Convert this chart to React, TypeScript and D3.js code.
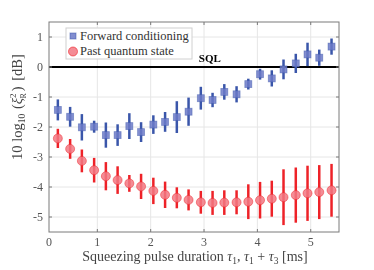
import React, { useEffect, useRef } from "react";
import * as d3 from "d3";

// pulse durations [ms]
const durations = [0.26, 0.49, 0.71, 0.94, 1.16, 1.38, 1.6, 1.82, 2.05, 2.27, 2.49, 2.71, 2.94, 3.16, 3.38, 3.61, 3.83, 4.05, 4.27, 4.49, 4.72, 4.94, 5.16, 5.39];

const forwardValues = [-1.43, -1.66, -2.01, -1.99, -2.27, -2.27, -1.97, -2.17, -1.92, -1.83, -1.67, -1.49, -1.04, -1.1, -0.83, -0.91, -0.57, -0.24, -0.38, -0.08, 0.12, 0.42, 0.31, 0.68];
const forwardErrors = [0.35, 0.33, 0.44, 0.2, 0.42, 0.36, 0.43, 0.33, 0.31, 0.33, 0.53, 0.47, 0.38, 0.24, 0.26, 0.27, 0.18, 0.18, 0.27, 0.33, 0.32, 0.39, 0.27, 0.27];

const pastValues = [-2.38, -2.73, -3.13, -3.44, -3.64, -3.77, -3.88, -3.98, -4.13, -4.26, -4.36, -4.43, -4.51, -4.53, -4.52, -4.51, -4.49, -4.44, -4.39, -4.34, -4.27, -4.21, -4.17, -4.11];
const pastErrors = [0.32, 0.33, 0.38, 0.41, 0.47, 0.46, 0.28, 0.42, 0.44, 0.44, 0.35, 0.35, 0.38, 0.4, 0.41, 0.4, 0.58, 0.61, 0.6, 0.93, 0.92, 0.92, 0.9, 0.88];

const xTicks = [1, 2, 3, 4, 5];
const yTicks = [1, 0, -1, -2, -3, -4, -5];
const legendLabels = ["Forward conditioning", "Past quantum state"];

const FONT = "'Liberation Serif', 'DejaVu Serif', serif";

export default function App() {
    const ref = useRef<SVGSVGElement>(null);

    useEffect(() => {
        const width = 374;
        const height = 270;
        const margin = { top: 22, right: 35, bottom: 38, left: 49 };

        const svg = d3.select(ref.current);
        svg.selectAll("*").remove();
        svg.attr("width", width).attr("height", height);

        const x = d3.scaleLinear().domain([0.094, 5.53]).range([margin.left, width - margin.right]);
        const y = d3.scaleLinear().domain([-5.5, 1.5]).range([height - margin.bottom, margin.top]);

        const [x0, x1] = x.range();
        const [y1, y0] = [y.range()[1], y.range()[0]];

        // grid
        const grid = svg.append("g");
        xTicks.forEach(t => {
            grid.append("line").attr("x1", x(t)).attr("x2", x(t)).attr("y1", y1).attr("y2", y0)
                .style("stroke", "#e6e6e6").style("stroke-width", 1);
        });
        yTicks.forEach(t => {
            grid.append("line").attr("x1", x0).attr("x2", x1).attr("y1", y(t)).attr("y2", y(t))
                .style("stroke", "#e6e6e6").style("stroke-width", 1);
        });

        // SQL line
        svg.append("line").attr("x1", x0).attr("x2", x1).attr("y1", y(0)).attr("y2", y(0))
            .style("stroke", "#000").style("stroke-width", 2);
        svg.append("text").attr("x", x(2.94) - 2).attr("y", y(0) - 5)
            .text("SQL").style("font-family", FONT).style("font-weight", "bold")
            .style("font-size", "11px").style("fill", "#000");

        // error bars + markers
        const drawSeries = (vals: number[], errs: number[], color: string, fill: string, shape: string) => {
            const g = svg.append("g");
            g.selectAll("line").data(vals).enter().append("line")
                .attr("x1", (d, i) => x(durations[i])).attr("x2", (d, i) => x(durations[i]))
                .attr("y1", (d, i) => y(d + errs[i])).attr("y2", (d, i) => y(d - errs[i]))
                .style("stroke", color).style("stroke-width", 2.5);
            if (shape === "square") {
                g.selectAll("rect").data(vals).enter().append("rect")
                    .attr("x", (d, i) => x(durations[i]) - 3.5).attr("y", d => y(d) - 3.5)
                    .attr("width", 7).attr("height", 7)
                    .style("fill", fill).style("stroke", color).style("stroke-opacity", 0.5).style("stroke-width", 0.8);
            } else {
                g.selectAll("circle").data(vals).enter().append("circle")
                    .attr("cx", (d, i) => x(durations[i])).attr("cy", d => y(d)).attr("r", 4.5)
                    .style("fill", fill).style("stroke", color).style("stroke-opacity", 0.6).style("stroke-width", 0.8);
            }
        };
        drawSeries(forwardValues, forwardErrors, "#3a56aa", "rgba(108,122,200,0.85)", "square");
        drawSeries(pastValues, pastErrors, "#ee2228", "rgba(242,120,130,0.85)", "circle");

        // box + ticks
        const axisColor = "#7a7a7a";
        svg.append("rect").attr("x", x0).attr("y", y1).attr("width", x1 - x0).attr("height", y0 - y1)
            .style("fill", "none").style("stroke", axisColor).style("stroke-width", 1);
        xTicks.forEach(t => {
            svg.append("line").attr("x1", x(t)).attr("x2", x(t)).attr("y1", y0).attr("y2", y0 - 3).style("stroke", axisColor);
            svg.append("line").attr("x1", x(t)).attr("x2", x(t)).attr("y1", y1).attr("y2", y1 + 3).style("stroke", axisColor);
        });
        yTicks.forEach(t => {
            svg.append("line").attr("x1", x0).attr("x2", x0 + 3).attr("y1", y(t)).attr("y2", y(t)).style("stroke", axisColor);
            svg.append("line").attr("x1", x1).attr("x2", x1 - 3).attr("y1", y(t)).attr("y2", y(t)).style("stroke", axisColor);
        });

        const labelColor = "#555";
        // x tick labels (first label "0" sits at the left edge)
        const xLabels = [{ pos: x0, text: "0" }, ...xTicks.map(t => ({ pos: x(t), text: String(t) }))];
        svg.selectAll(".xlab").data(xLabels).enter().append("text")
            .attr("x", d => d.pos).attr("y", y0 + 13.5).attr("text-anchor", "middle")
            .text(d => d.text).style("font-family", FONT).style("font-size", "12px").style("fill", labelColor);
        svg.selectAll(".ylab").data(yTicks).enter().append("text")
            .attr("x", x0 - 6).attr("y", d => y(d) + 4).attr("text-anchor", "end")
            .text(d => (d < 0 ? "-" + Math.abs(d) : String(d)))
            .style("font-family", FONT).style("font-size", "12px").style("fill", labelColor);

        // x label
        const xl = svg.append("text").attr("x", 195).attr("y", height - 9).attr("text-anchor", "middle")
            .style("font-family", FONT).style("font-size", "14px").style("fill", "#444");
        xl.append("tspan").text("Squeezing pulse duration ");
        xl.append("tspan").text("τ").style("font-style", "italic");
        xl.append("tspan").text("1").attr("dy", 3).style("font-size", "9.5px");
        xl.append("tspan").text(", ").attr("dy", -3);
        xl.append("tspan").text("τ").style("font-style", "italic");
        xl.append("tspan").text("1").attr("dy", 3).style("font-size", "9.5px");
        xl.append("tspan").text(" + ").attr("dy", -3);
        xl.append("tspan").text("τ").style("font-style", "italic");
        xl.append("tspan").text("3").attr("dy", 3).style("font-size", "9.5px");
        xl.append("tspan").text(" [ms]").attr("dy", -3);

        // y label
        const yl = svg.append("text").attr("transform", `translate(22, 107) rotate(-90)`)
            .attr("text-anchor", "middle")
            .style("font-family", FONT).style("font-size", "14.5px").style("fill", "#444");
        yl.append("tspan").text("10 log");
        yl.append("tspan").text("10").attr("dy", 3).style("font-size", "9.5px");
        yl.append("tspan").text(" (").attr("dy", -3).attr("dx", 1);
        yl.append("tspan").text("ξ").style("font-style", "italic");
        yl.append("tspan").text("2").attr("dy", -6).style("font-size", "9px");
        yl.append("tspan").text("R").attr("dx", -5).attr("dy", 10).style("font-size", "8px");
        yl.append("tspan").text(")").attr("dy", -4).attr("dx", 2);
        yl.append("tspan").text(" [dB]").attr("dx", 2);

        // legend
        const lg = svg.append("g");
        lg.append("rect").attr("x", 66).attr("y", 28).attr("width", 126).attr("height", 31)
            .style("fill", "#fff").style("stroke", "#d0d0d0").style("stroke-width", 1);
        lg.append("rect").attr("x", 70).attr("y", 33).attr("width", 6).attr("height", 6)
            .style("fill", "rgba(108,122,200,0.85)").style("stroke", "#3a56aa").style("stroke-opacity", 0.5);
        lg.append("circle").attr("cx", 73).attr("cy", 51.5).attr("r", 4.5)
            .style("fill", "rgba(242,120,130,0.85)").style("stroke", "#ee2228").style("stroke-opacity", 0.6);
        lg.selectAll(".lt").data(legendLabels).enter().append("text")
            .attr("x", 80).attr("y", (d, i) => 40 + i * 15)
            .text(d => d).style("font-family", FONT).style("font-size", "12.5px").style("fill", "#333");
    }, []);

    return (
        <div style={{ position: "fixed", top: 0, left: 0 }}>
            <svg ref={ref}></svg>
        </div>
    );
}
